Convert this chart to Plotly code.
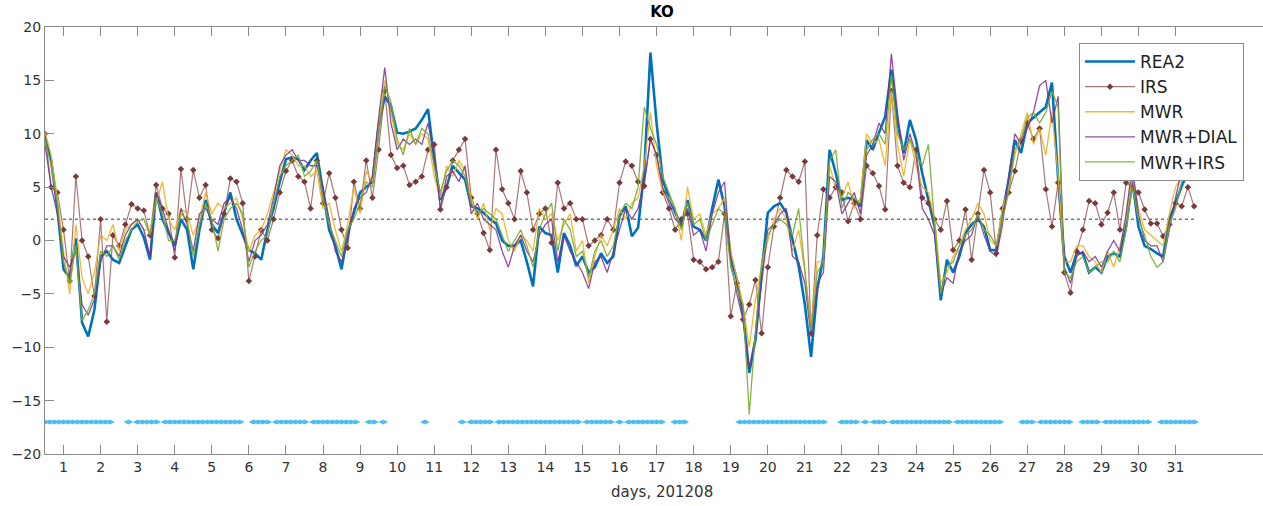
import numpy as np
import plotly.graph_objects as go

# time axis: 4-hourly samples from day 0.5 to 31.5
days = 0.5 + np.arange(187) / 6.0

rea2 = [
    9.8, 7.5, 3.0, -2.7, -3.5, 0.2,
    -7.7, -9.0, -6.5, -1.5, -1.0, -1.8,
    -2.1, -0.5, 1.0, 1.5, 0.3, -1.8,
    4.5, 2.0, 0.7, -0.5, 2.0, 1.0,
    -2.7, 1.0, 3.8, 1.5, 0.7, 2.5,
    4.5, 2.0, 0.5, -0.9, -1.2, -1.8,
    1.0, 3.0, 5.5, 7.6, 7.8, 7.6,
    6.6, 7.5, 8.2, 4.5, 1.0, -0.5,
    -2.7, 0.7, 2.5, 4.5, 5.0, 5.5,
    10.7, 13.5, 12.6, 10.1, 10.0, 10.2,
    10.5, 11.3, 12.3, 7.6, 3.8, 5.0,
    7.0, 6.3, 5.7, 3.2, 3.0, 2.6,
    2.0, 1.6, 0.0, -0.5, -0.5, 0.0,
    -2.0, -4.3, 1.3, 0.7, 0.5, -3.0,
    0.7, -0.5, -2.4, -1.5, -3.0, -2.5,
    -1.2, -2.1, -1.5, 2.3, 3.2, 0.4,
    1.2, 6.5, 17.6, 11.0, 5.7, 4.0,
    2.6, 1.3, 3.8, 1.3, 1.0, 0.0,
    3.0, 5.7, 3.2, -1.5, -3.7, -6.8,
    -12.4, -9.3, -3.0, 2.6, 3.2, 3.5,
    2.6, 0.0, -2.4, -6.0, -10.9, -4.6,
    -1.5, 8.5, 6.3, 3.8, 4.0, 3.8,
    3.2, 9.4, 8.5, 10.1, 11.6, 16.0,
    11.0, 8.2, 11.3, 9.4, 6.3, 3.8,
    1.3, -5.6, -1.8, -3.0, -1.5, 0.7,
    1.5, 2.0, 1.3, -0.9, -0.9, 2.6,
    5.7, 9.4, 8.2, 11.0, 11.5, 12.0,
    12.5, 14.8, 5.7, -1.5, -3.0, -1.2,
    -1.2, -3.0, -2.5, -3.0, -1.5, -1.2,
    -1.5, 1.3, 5.7, 1.3, -0.5, -0.8,
    -1.2, -1.5, 2.0, 3.5, 5.1, 6.3,
    6.5,
]

irs = [
    10.0, 5.0, 4.5, 1.0, -3.8, 6.0,
    0.0, -1.5, -5.2, 2.0, -7.6, 0.5,
    -0.5, 1.5, 3.4, 3.0, 2.8, 0.5,
    5.2, 3.0, 2.5, -1.6, 6.7, 2.0,
    6.6, 4.0, 5.2, 1.0, 0.2, 2.5,
    5.8, 5.5, 3.5, -3.8, -1.5, 1.0,
    0.0, 2.0, 4.5, 6.5, 7.5, 6.0,
    5.5, 3.0, 7.5, 3.5, 6.3, 4.0,
    1.0, -0.7, 5.5, 3.0, 7.5, 4.0,
    8.5, 14.0, 8.0, 6.8, 7.0, 5.2,
    5.5, 6.0, 8.5, 9.0, 2.9, 5.0,
    7.5, 8.5, 9.5, 4.0, 2.5, 0.7,
    -0.9, 8.5, 4.8, 3.5, 2.0, 6.5,
    4.5, 1.0, 2.5, 3.0, -0.2, 5.4,
    3.0, 3.5, 2.0, 2.0, -0.5, 0.0,
    0.5, 2.0, 1.0, 5.4, 7.4, 7.0,
    5.5, 5.1, 9.5, 8.0, 4.5, 3.0,
    1.0, 2.0, 2.5, -1.8, -2.0, -2.7,
    -2.5, -2.0, 2.5, -7.1, -4.0, -7.4,
    -6.0, -3.7, -8.7, -2.5, 1.3, 4.0,
    6.6, 6.0, 5.5, 7.4, -8.7, 0.5,
    4.8, 4.0, 5.0, 4.5, 1.8, 3.5,
    2.0, 7.0, 6.3, 5.1, 2.9, 14.0,
    7.0, 5.4, 5.0, 8.5, 4.0, 3.5,
    2.0, 1.0, 3.7, -0.9, 0.0, 2.9,
    -1.8, 2.5, 6.6, 4.5, -1.2, 3.0,
    4.5, 6.5, 9.4, 11.0, 9.5, 10.5,
    4.8, 1.3, 5.4, -3.0, -4.9, -1.0,
    1.0, 3.7, 3.5, 1.5, 2.6, 4.5,
    1.0, 5.4, 5.0, 4.5, 2.9, 1.6,
    1.6, 0.4, 1.5, 3.5, 3.2, 5.0,
    3.2,
]

mwr = [
    10.2, 8.0, 4.0, -1.0, -5.0, 1.5,
    -3.5, -5.0, -3.0, 0.5, 0.0, 1.5,
    -1.0, 1.0, 1.5, 2.0, 1.0, 1.0,
    3.5, 5.5, 2.0, 1.0, 3.0, 2.5,
    0.5, 2.0, 4.5, 2.5, 3.5, 3.0,
    3.5, 4.0, 2.0, -1.0, 0.5, 1.0,
    2.5, 4.5, 6.5, 8.5, 8.0, 7.0,
    7.0, 6.0, 6.5, 3.0, 3.5, 1.0,
    -1.0, 1.5, 5.0, 2.5, 6.5, 5.5,
    11.0, 15.0, 12.0, 9.0, 8.5, 10.0,
    9.0, 10.0, 9.5, 6.0, 4.0, 7.0,
    6.0, 7.5, 6.5, 4.0, 2.0, 3.5,
    1.0, 3.0, 2.5, 0.0, -1.0, 0.5,
    0.0, -1.0, 3.0, 2.0, 2.5, 0.0,
    1.5, 2.5, -1.0, 0.0, -4.0, -1.5,
    0.5, -0.5, 1.0, 3.0, 2.0, 3.5,
    4.0, 7.0, 12.0, 7.0, 4.5, 4.0,
    3.0, 0.0, 5.0, 2.0, 2.5, 0.5,
    2.5, 3.0, 4.0, -1.0, -3.5, -6.0,
    -10.0, -5.5, -2.5, 0.0, 2.0, 3.0,
    2.0, -1.0, 1.0, -3.0, -8.0, -2.0,
    -2.0, 7.0, 5.0, 4.0, 5.5, 3.0,
    4.0, 10.0, 9.0, 9.5, 7.0, 14.0,
    9.0, 6.0, 9.5, 7.0, 5.0, 4.5,
    2.0, -4.0, -3.0, -1.5, -0.5, 1.0,
    2.0, 3.5, 2.5, 0.0, -0.5, 3.0,
    5.0, 8.0, 10.0, 12.0, 9.0, 10.5,
    8.0, 12.0, 6.0, -2.0, -2.0, -0.5,
    -0.5, -1.5, -2.0, -3.0, -1.0, -2.5,
    -0.5, 2.0, 6.0, 3.0, 1.0, 0.5,
    0.0, -0.5, 2.5, 5.0, 6.0, 7.0,
    7.5,
]

mwr_dial = [
    9.0, 5.0, 2.5, -1.5, -2.5, -1.0,
    -6.0, -7.0, -5.5, -2.0, -0.5, -0.5,
    -1.5, 0.5, 1.5, 2.0, 1.0, -1.5,
    4.5, 3.0, 1.0, -1.0, 3.0, 1.5,
    -1.0, 2.5, 3.0, 2.0, 1.5, 3.5,
    4.0, 3.0, 1.0, -2.0, 0.0, 0.5,
    1.5, 4.0, 7.0, 8.0, 8.5, 7.5,
    7.5, 7.0, 7.0, 5.0, 2.0, -1.0,
    -2.0, 0.0, 3.0, 4.0, 4.5, 6.0,
    11.5, 16.2, 11.0, 8.5, 9.5, 9.0,
    9.5, 9.0, 11.0, 8.0, 3.0, 6.0,
    6.5, 5.5, 7.0, 2.5, 3.5, 2.0,
    1.5, 1.0, -1.0, -2.5, -0.5, 0.5,
    -1.0, -2.0, 0.5, 1.5, 2.0, -2.0,
    0.5, -1.0, -2.0, -3.0, -4.5, -2.0,
    -1.5, -3.0, -1.0, 1.0, 3.0, 2.0,
    3.0, 5.5, 9.5, 8.0, 5.0, 3.5,
    2.0, 1.5, 3.0, 0.5, 1.0, -1.0,
    2.5, 4.5, 5.5, -2.0, -5.0, -7.5,
    -12.0, -9.0, -4.0, 1.0, 1.5, 2.5,
    3.0, -1.5, -2.0, -4.0, -9.0, -4.0,
    -3.0, 6.0, 5.5, 2.5, 3.5, 4.5,
    2.5, 8.0, 9.0, 11.0, 10.0, 17.5,
    12.0, 7.5, 10.0, 8.0, 3.0, 2.0,
    0.5, -5.0, -3.5, -4.0, -1.0, 0.0,
    0.5, 2.5, 0.5, -1.0, -1.5, 1.5,
    6.0, 10.0, 9.0, 10.5, 12.0, 14.5,
    15.0, 11.0, 13.5, -2.5, -4.0, -1.5,
    -1.0, -2.0, -1.5, -2.5, -1.0, 0.0,
    -1.0, 2.5, 7.0, 2.5, 0.0, -0.5,
    -0.5, -2.0, 1.0, 4.0, 6.5, 7.5,
    8.0,
]

mwr_irs = [
    9.5, 7.0, 3.5, -2.0, -4.0, -0.5,
    -7.5, -6.5, -5.0, -1.0, -1.5, -0.5,
    -1.8, 0.0, 1.0, 1.8, 2.0, 0.5,
    4.0, 2.5, 0.0, 0.0, 2.5, 2.0,
    -1.5, 1.5, 3.5, 2.0, -1.0, 2.0,
    3.0, 3.5, 2.5, -2.5, -1.0, 0.0,
    0.5, 3.5, 6.0, 7.0, 7.5, 8.0,
    6.0, 6.5, 7.5, 4.0, 1.5, 0.0,
    -1.5, 1.0, 2.0, 3.5, 5.5, 5.0,
    10.0, 14.5, 13.0, 9.5, 8.0, 10.5,
    9.0, 10.5, 10.0, 7.0, 4.5, 6.5,
    7.5, 7.0, 6.0, 3.5, 2.5, 3.0,
    2.5, 2.0, 0.5, -1.0, 0.0, 1.0,
    -0.5, -2.5, 1.0, 2.5, 3.5, -1.0,
    2.0, 1.0, -1.5, -1.0, -3.5, -1.0,
    0.0, -1.5, -0.5, 2.5, 3.5, 3.0,
    5.0, 12.5, 10.5, 9.0, 6.0, 4.5,
    3.0, 1.0, 3.5, 1.5, 2.0, 0.0,
    1.5, 3.0, 2.5, -2.5, -4.5, -6.0,
    -16.3, -8.5, -2.0, 0.5, 1.5, 2.0,
    1.5, 0.5, 3.0, -2.5, -8.5, -3.0,
    -2.0, 7.5, 8.5, 3.0, 4.5, 4.0,
    3.5, 8.5, 9.5, 10.0, 9.0, 15.5,
    10.0, 8.5, 9.5, 8.0, 7.0, 9.0,
    1.5, -5.0, -2.5, -2.0, -0.5, 0.5,
    1.0, 2.5, 1.0, 0.5, -0.5, 2.0,
    4.5, 8.5, 9.5, 11.5, 12.0, 11.0,
    12.0, 14.0, 12.5, -3.0, -3.5, -2.0,
    -1.5, -3.0, -2.5, -2.0, -2.0, -1.0,
    -2.0, 1.0, 5.0, 2.0, 0.5, -1.5,
    -2.5, -2.0, 1.5, 3.0, 5.5, 6.5,
    7.0,
]

# horizontal reference level
ref_x = [0.5, 31.5]
ref_y = [2.0, 2.0]

# periods (days) with IRS data available, shown as markers at -17
avail_ranges = [
    (0.51, 0.73), (0.92, 1.73), (1.89, 2.19), (2.70, 2.70), (3.00, 3.37),
    (3.56, 3.56), (3.75, 5.75), (6.18, 6.50), (6.75, 7.56), (7.69, 8.93),
    (9.20, 9.20), (9.42, 9.42), (9.58, 9.58), (10.79, 10.79), (11.71, 11.71),
    (11.95, 12.49), (12.73, 14.84), (15.08, 15.76), (15.97, 15.97),
    (16.21, 17.13), (17.56, 17.78), (19.24, 19.61), (19.80, 21.56),
    (21.99, 22.42), (22.66, 22.66), (22.82, 23.15), (23.36, 24.90),
    (25.09, 25.09), (25.28, 26.22), (26.90, 27.17), (27.36, 28.14),
    (28.52, 28.89), (29.11, 30.24), (30.59, 30.59), (30.78, 31.51),
]
avail_level = -17.0

grid = np.arange(0.5, 31.55, 0.125)
avail_x = [t for t in grid
           if any(a - 0.0625 <= t <= b + 0.0625 for a, b in avail_ranges)]
avail_y = [avail_level] * len(avail_x)

tick_days = list(range(1, 32))

FONT = "DejaVu Sans"
AX = "#8a8a8a"
TXT = "#333333"

fig = go.Figure()

fig.add_trace(go.Scatter(x=avail_x, y=avail_y, mode="markers", showlegend=False,
                         marker=dict(symbol="diamond-wide", size=7, color="#4DBEEE")))
fig.add_trace(go.Scatter(x=ref_x, y=ref_y, mode="lines", showlegend=False,
                         line=dict(color="#333333", width=1, dash="dot")))

fig.add_trace(go.Scatter(x=days, y=rea2, mode="lines", name="REA2",
                         line=dict(color="#0072BD", width=2.6)))
fig.add_trace(go.Scatter(x=days, y=irs, mode="lines+markers", name="IRS",
                         line=dict(color="rgba(140,75,75,0.75)", width=1.2),
                         marker=dict(symbol="diamond", size=5, color="#7A3A3A")))
fig.add_trace(go.Scatter(x=days, y=mwr, mode="lines", name="MWR",
                         line=dict(color="rgba(237,177,32,0.9)", width=1.3)))
fig.add_trace(go.Scatter(x=days, y=mwr_dial, mode="lines", name="MWR+DIAL",
                         line=dict(color="rgba(126,47,142,0.85)", width=1.3)))
fig.add_trace(go.Scatter(x=days, y=mwr_irs, mode="lines", name="MWR+IRS",
                         line=dict(color="rgba(119,172,48,0.9)", width=1.3)))

fig.update_layout(
    width=1263, height=506,
    margin=dict(l=45, r=0, t=27, b=52),
    paper_bgcolor="white", plot_bgcolor="white",
    font=dict(family=FONT, size=14, color=TXT),
    title=dict(text="<b>KO</b>", x=662 / 1263, xref="container", xanchor="center",
               y=1 - 12 / 506, yref="container", yanchor="middle",
               font=dict(family=FONT, size=15, color="#000000")),
    legend=dict(x=(1079 - 45) / 1218, y=(454 - 43) / 427, xanchor="left", yanchor="top",
                bgcolor="white", bordercolor="#8a8a8a", borderwidth=1,
                font=dict(family=FONT, size=17, color="#222222"),
                tracegroupgap=0, itemwidth=50),
    annotations=[dict(text="days, 201208", xref="paper", yref="paper",
                      x=(662 - 45) / 1218, y=(454 - 492) / 427,
                      xanchor="center", yanchor="middle", showarrow=False,
                      font=dict(family=FONT, size=15, color=TXT))],
)

fig.update_xaxes(range=[0.5, 33.36], tickvals=tick_days, ticktext=[str(d) for d in tick_days],
                 ticks="inside", ticklen=9, tickcolor=AX, showline=True, linecolor=AX,
                 linewidth=1.2, mirror="ticks", showgrid=False, zeroline=False,
                 tickfont=dict(family=FONT, size=14, color=TXT))
fig.update_yaxes(range=[-20, 20], dtick=5, ticks="inside", ticklen=9, tickcolor=AX,
                 showline=True, linecolor=AX, linewidth=1.2, mirror=False,
                 showgrid=False, zeroline=False,
                 tickfont=dict(family=FONT, size=14, color=TXT))

fig.write_html("out.html")
